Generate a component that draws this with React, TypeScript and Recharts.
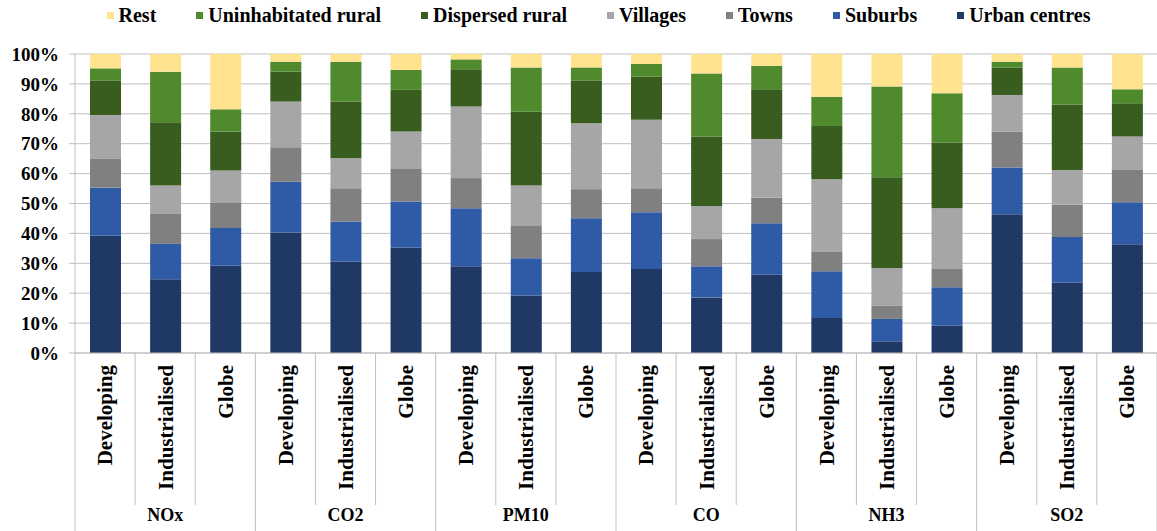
import React from 'react';
import { BarChart, Bar, XAxis, YAxis, CartesianGrid, Legend } from 'recharts';

const groups = ['NOx', 'CO2', 'PM10', 'CO', 'NH3', 'SO2'];
const regions = ['Developing', 'Industrialised', 'Globe'];

const urbanCentres = [39.2, 24.7, 29.2, 40.3, 30.6, 35.3, 29.0, 19.2, 27.1, 28.1, 18.6, 26.2, 11.7, 3.9, 9.1, 46.4, 23.6, 36.4];
const suburbs = [16.1, 11.8, 12.6, 17.0, 13.4, 15.4, 19.4, 12.5, 18.0, 19.0, 10.4, 17.2, 15.6, 7.5, 12.9, 15.6, 15.2, 14.0];
const towns = [9.8, 10.0, 8.6, 11.5, 11.1, 10.8, 10.1, 11.0, 9.7, 8.0, 9.1, 8.6, 6.7, 4.5, 6.1, 12.1, 10.8, 10.8];
const villages = [14.5, 9.5, 10.6, 15.3, 10.0, 12.6, 23.9, 13.3, 22.0, 22.9, 11.1, 19.6, 24.1, 12.5, 20.3, 12.2, 11.6, 11.2];
const dispersedRural = [11.5, 21.2, 13.1, 10.0, 19.0, 13.9, 12.5, 24.7, 14.3, 14.4, 23.2, 16.6, 17.8, 30.4, 22.0, 9.2, 21.8, 11.1];
const uninhabitatedRural = [4.1, 16.9, 7.4, 3.3, 13.3, 6.7, 3.3, 14.8, 4.4, 4.3, 21.1, 7.8, 9.8, 30.3, 16.5, 1.9, 12.5, 4.7];
const rest = [4.8, 5.9, 18.5, 2.6, 2.6, 5.3, 1.8, 4.5, 4.5, 3.3, 6.5, 4.0, 14.3, 10.9, 13.1, 2.6, 4.5, 11.8];

const yTicks = [0, 0.1, 0.2, 0.3, 0.4, 0.5, 0.6, 0.7, 0.8, 0.9, 1];

const series = [
  { key: 'urban', name: 'Urban centres', color: '#1F3864', values: urbanCentres },
  { key: 'suburbs', name: 'Suburbs', color: '#2F5AA6', values: suburbs },
  { key: 'towns', name: 'Towns', color: '#808080', values: towns },
  { key: 'villages', name: 'Villages', color: '#A6A6A6', values: villages },
  { key: 'dispersed', name: 'Dispersed rural', color: '#385D1F', values: dispersedRural },
  { key: 'uninhabitated', name: 'Uninhabitated rural', color: '#4F8A2D', values: uninhabitatedRural },
  { key: 'rest', name: 'Rest', color: '#FFE38F', values: rest },
];

const data = groups.flatMap((g, gi) =>
  regions.map((r, ri) => {
    const i = gi * 3 + ri;
    const row: Record<string, any> = { id: `${g}-${r}`, region: r, group: g };
    series.forEach((s) => { row[s.key] = s.values[i]; });
    return row;
  })
);

const FONT = "'Liberation Serif', 'DejaVu Serif', serif";
const W = 1157;
const H = 531;
const Y_W = 75;
const X_H = 178;
const N = data.length;
const BAND = (W - Y_W) / N;

const CatTick = (props: any) => {
  const { x, y, index } = props;
  const d = data[index];
  if (!d) return null;
  const top = y - 8;
  const isGroupStart = index % 3 === 0;
  const isLast = index === N - 1;
  return (
    <g>
      <line x1={x - BAND / 2} x2={x - BAND / 2} y1={top} y2={top + (isGroupStart ? X_H : 152)} stroke="#BFBFBF" strokeWidth={1} />
      {isLast && (
        <line x1={x + BAND / 2} x2={x + BAND / 2} y1={top} y2={top + X_H} stroke="#BFBFBF" strokeWidth={1} />
      )}
      <text
        x={x}
        y={top + 12}
        transform={`rotate(-90, ${x}, ${top + 12})`}
        textAnchor="end"
        dy="0.35em"
        style={{ fontFamily: FONT, fontWeight: 'bold', fontSize: 21 }}
        fill="#000"
      >
        {d.region}
      </text>
      {index % 3 === 1 && (
        <text x={x} y={top + 168} textAnchor="middle" style={{ fontFamily: FONT, fontWeight: 'bold', fontSize: 18 }} fill="#000">
          {d.group}
        </text>
      )}
    </g>
  );
};

const LegendContent = () => {
  const items = [...series].reverse();
  return (
    <div
      style={{
        display: 'flex',
        justifyContent: 'center',
        alignItems: 'center',
        height: 30,
        paddingLeft: 40,
        gap: 40,
        fontFamily: FONT,
        fontWeight: 'bold',
        fontSize: 20,
        color: '#000',
        boxSizing: 'border-box',
      }}
    >
      {items.map((s) => (
        <div key={s.key} style={{ display: 'flex', alignItems: 'center' }}>
          <span style={{ display: 'inline-block', width: 7, height: 7, background: s.color, marginRight: 5 }} />
          <span>{s.name}</span>
        </div>
      ))}
    </div>
  );
};

export default function App() {
  return (
    <div style={{ position: 'absolute', left: 0, top: 0, background: '#fff' }}>
      <BarChart
        width={W}
        height={H}
        data={data}
        stackOffset="expand"
        margin={{ top: 24, right: 0, bottom: 0, left: 0 }}
        barSize={31}
      >
        <Legend verticalAlign="top" content={<LegendContent />} wrapperStyle={{ top: 0, left: 0, width: W }} />
        <CartesianGrid vertical={false} stroke="#BFBFBF" />
        <XAxis
          dataKey="id"
          interval={0}
          height={X_H}
          tickLine={false}
          axisLine={{ stroke: '#BFBFBF' }}
          tick={<CatTick />}
        />
        <YAxis
          width={Y_W}
          domain={[0, 1]}
          ticks={yTicks}
          tickFormatter={(v: number) => `${Math.round(v * 100)}%`}
          axisLine={{ stroke: '#BFBFBF' }}
          tickLine={{ stroke: '#BFBFBF' }}
          tickSize={6}
          tickMargin={10}
          tick={{ style: { fontFamily: FONT, fontWeight: 'bold', fontSize: 19 }, fill: '#000' }}
        />
        {series.map((s) => (
          <Bar key={s.key} dataKey={s.key} name={s.name} stackId="a" fill={s.color} isAnimationActive={false} />
        ))}
      </BarChart>
    </div>
  );
}
